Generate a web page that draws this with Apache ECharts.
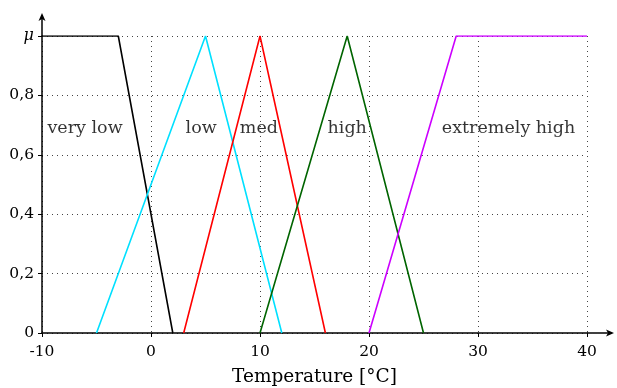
<!DOCTYPE html>
<html><head><meta charset="utf-8">
<script src="https://cdn.jsdelivr.net/npm/echarts@6/dist/echarts.min.js"></script>
<style>html,body{margin:0;padding:0;background:#fff}#c{width:617px;height:388px}</style>
</head><body><div id="c"></div>
<script>
const veryLow = [[-10,1],[-3,1],[2,0]];
const low = [[-5,0],[5,1],[12,0]];
const med = [[3,0],[10,1],[16,0]];
const high = [[10,0],[18,1],[25,0]];
const extremelyHigh = [[20,0],[28,1],[40,1]];
const labelNames = ['very low','low','med','high','extremely high'];
const labelX = [-6.05, 4.6, 9.9, 18, 32.8];
const labelY = [0.69, 0.69, 0.69, 0.69, 0.69];
const xTicks = [-10,0,10,20,30,40];
const yTicks = [0,0.2,0.4,0.6,0.8,1];

const FONT = 'DejaVu Serif';
const chart = echarts.init(document.getElementById('c'));
function line(name, data, color){
  return {name, type:'line', data, symbol:'none', lineStyle:{color, width:1.6}, animation:false, z:3};
}
chart.setOption({
  animation:false,
  grid:{left:42, right:30, top:36, bottom:55, containLabel:false, outerBoundsMode:'none'},
  xAxis:{type:'value', min:-10, max:40, interval:10,
    axisLine:{show:true, onZero:false, lineStyle:{color:'#000', width:1.5}},
    axisTick:{show:true, length:4, lineStyle:{color:'#000'}},
    axisLabel:{color:'#000', fontFamily:FONT, fontSize:15.5, margin:11},
    splitLine:{show:true, lineStyle:{color:'#444', type:[1,4], width:1}},
    name:'Temperature [°C]', nameLocation:'middle', nameGap:35,
    nameTextStyle:{color:'#000', fontFamily:FONT, fontSize:18.5}
  },
  yAxis:{type:'value', min:0, max:1, interval:0.2,
    axisLine:{show:true, onZero:false, lineStyle:{color:'#000', width:1.5}},
    axisTick:{show:true, length:4, lineStyle:{color:'#000'}},
    axisLabel:{color:'#000', fontFamily:FONT, fontSize:15.5, margin:8,
      formatter:v => v===1 ? '{mu|μ}' : (v===0 ? '0' : v.toFixed(1).replace('.',',')),
      rich:{mu:{fontStyle:'italic', fontFamily:FONT, fontSize:16, color:'#000'}}},
    splitLine:{show:true, lineStyle:{color:'#444', type:[1,4], width:1}}
  },
  series:[
    line('very low', veryLow, '#000000'),
    line('low', low, '#00e0ff'),
    line('med', med, '#ff0000'),
    line('high', high, '#006400'),
    line('extremely high', extremelyHigh, '#cc00ff'),
    {type:'scatter', symbolSize:0, z:5,
      data: labelNames.map((n,i)=>({name:n, value:[labelX[i], labelY[i]]})),
      label:{show:true, position:'inside', formatter:p=>p.name, color:'#000', fontFamily:FONT, fontSize:17.5}
    }
  ]
});
// axis arrows extending past the plot
const o = chart.convertToPixel({gridIndex:0}, [-10,0]);
const xe = chart.convertToPixel({gridIndex:0}, [40,0]);
const ye = chart.convertToPixel({gridIndex:0}, [-10,1]);
const xt = [xe[0]+27, o[1]], yt = [o[0], ye[1]-23];
chart.setOption({graphic:[
  {type:'line', shape:{x1:xe[0], y1:o[1], x2:xt[0]-2, y2:o[1]}, style:{stroke:'#000', lineWidth:1.5}},
  {type:'polygon', shape:{points:[[xt[0],xt[1]],[xt[0]-8,xt[1]-3.5],[xt[0]-6,xt[1]],[xt[0]-8,xt[1]+3.5]]}, style:{fill:'#000'}},
  {type:'line', shape:{x1:o[0], y1:ye[1], x2:o[0], y2:yt[1]+2}, style:{stroke:'#000', lineWidth:1.5}},
  {type:'polygon', shape:{points:[[yt[0],yt[1]],[yt[0]-3.5,yt[1]+8],[yt[0],yt[1]+6],[yt[0]+3.5,yt[1]+8]]}, style:{fill:'#000'}}
]});
</script></body></html>
